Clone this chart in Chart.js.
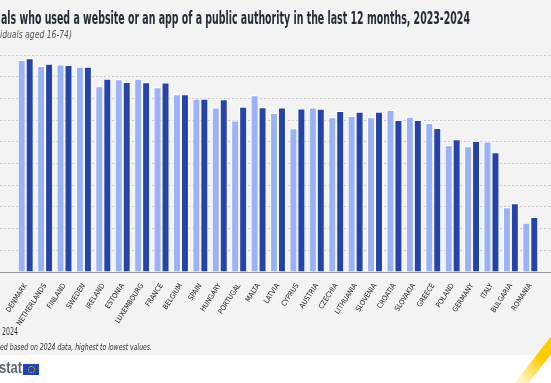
<!DOCTYPE html>
<html>
<head>
<meta charset="utf-8">
<script src="https://cdn.jsdelivr.net/npm/chart.js@4.4.1/dist/chart.umd.min.js"></script>
<style>
  html, body { margin: 0; padding: 0; background: #ffffff; }
  #wrap { position: relative; width: 551px; height: 383px; overflow: hidden; background: #ffffff; }
  #panel { position: absolute; left: 0; top: 0; width: 551px; height: 355px; background: #f3f3f3; }
  #c { position: absolute; left: 0; top: 0; }
  .t { position: absolute; white-space: nowrap; font-family: "DejaVu Sans Condensed", "DejaVu Sans", sans-serif; font-stretch: condensed; transform-origin: 0 0; }
  #title { left: 1px; top: 8px; font-size: 17px; line-height: 20px; font-weight: bold; color: #262b38; }
  #sub { left: 0px; top: 27px; font-size: 10.5px; line-height: 14px; font-style: italic; color: #555; }
  #leg { left: 2px; top: 326px; font-size: 10px; line-height: 12px; color: #333; }
  #note { left: 0px; top: 341px; font-size: 9.5px; line-height: 12px; font-style: italic; color: #333; }
  #logo { left: -1px; top: 358px; font-size: 17px; line-height: 20px; font-weight: bold; color: #5d6573; font-family: "Liberation Sans", "DejaVu Sans", sans-serif; }
  #flag { position: absolute; left: 23px; top: 364px; width: 16px; height: 11px; background: #1f43b8; }
  #flag:after { content: ""; position: absolute; left: 4.5px; top: 2px; width: 5px; height: 5px; border: 1px dotted #f2c200; border-radius: 50%; }
  #stripe { position: absolute; left: 531px; top: 326px; width: 11px; height: 76px;
            background: linear-gradient(to bottom, #ffcc00 0%, #ffcc00 40%, rgba(255,214,60,0.4) 75%, rgba(255,255,255,0) 100%);
            transform: rotate(38deg); transform-origin: 50% 50%; }
</style>
</head>
<body>
<div id="wrap">
  <div id="panel"></div>
  <canvas id="c" width="551" height="337"></canvas>
  <div class="t" id="title" data-w="469">als who used a website or an app of a public authority in the last 12 months, 2023-2024</div>
  <div class="t" id="sub" data-w="72">iduals aged 16-74)</div>
  <div class="t" id="leg" data-w="16">2024</div>
  <div class="t" id="note" data-w="152">ed based on 2024 data, highest to lowest values.</div>
  <div class="t" id="logo" data-w="23">stat</div>
  <div id="flag"></div>
  <div id="stripe"></div>
</div>
<script>
const countries = ["DENMARK","NETHERLANDS","FINLAND","SWEDEN","IRELAND","ESTONIA","LUXEMBOURG","FRANCE","BELGIUM","SPAIN","HUNGARY","PORTUGAL","MALTA","LATVIA","CYPRUS","AUSTRIA","CZECHIA","LITHUANIA","SLOVENIA","CROATIA","SLOVAKIA","GREECE","POLAND","GERMANY","ITALY","BULGARIA","ROMANIA"];
const values2023 = [97.7,94.9,95.6,94.6,85.6,88.8,89.0,85.1,81.9,79.8,75.8,69.8,81.4,73.3,66.3,75.8,71.3,71.9,71.3,74.6,71.6,68.7,58.4,58.0,60.1,29.8,22.7];
const values2024 = [98.5,96.0,95.4,94.6,89.1,87.6,87.4,87.3,81.9,79.8,79.6,76.1,75.9,75.8,75.3,75.2,74.2,73.9,73.9,70.1,70.1,66.4,61.2,60.4,55.2,31.7,25.3];
const yTicks = [0,10,20,30,40,50,60,70,80,90,100];

// fit the cropped text lines to the widths they take in the reference
document.querySelectorAll('.t[data-w]').forEach(el => {
  const w = el.getBoundingClientRect().width;
  const target = parseFloat(el.dataset.w);
  if (w > 0) el.style.transform = 'scaleX(' + (target / w) + ')';
});

const gridColor = ctx => (ctx.tick && ctx.tick.value === 0) ? '#9a9a9a' : '#c9c9c9';
const gridDash = ctx => (ctx.tick && ctx.tick.value === 0) ? [] : [2, 2];
const FONT = '"DejaVu Sans Condensed", "DejaVu Sans", sans-serif';

new Chart(document.getElementById('c'), {
  type: 'bar',
  data: {
    labels: countries,
    datasets: [
      { label: '2023', data: values2023, backgroundColor: '#9bb2f7', borderColor: '#ffffff', borderWidth: 1 },
      { label: '2024', data: values2024, backgroundColor: '#2644a7', borderColor: '#ffffff', borderWidth: 1 }
    ]
  },
  options: {
    responsive: false,
    animation: false,
    layout: { padding: { top: 55, left: 0, right: 0, bottom: 0 } },
    datasets: { bar: { categoryPercentage: 0.82, barPercentage: 1.0 } },
    plugins: { legend: { display: false }, tooltip: { enabled: false }, title: { display: false } },
    scales: {
      x: {
        grid: { display: false },
        border: { display: false },
        afterFit: axis => { axis.height = 65; },
        ticks: { autoSkip: false, minRotation: 57, maxRotation: 57, padding: 2, color: '#222222', font: { family: FONT, size: 7.2 } }
      },
      y: {
        position: 'left',
        min: 0, max: 100,
        afterBuildTicks: axis => { axis.ticks = yTicks.map(v => ({ value: v })); },
        ticks: { display: false },
        grid: { color: gridColor, tickColor: gridColor, tickLength: 16, tickBorderDash: gridDash, lineWidth: 1 },
        border: { display: false, dash: gridDash }
      },
      y2: {
        position: 'right',
        min: 0, max: 100,
        afterBuildTicks: axis => { axis.ticks = yTicks.map(v => ({ value: v })); },
        ticks: { display: false },
        grid: { drawOnChartArea: false, color: gridColor, tickColor: gridColor, tickLength: 11, tickBorderDash: gridDash },
        border: { display: false }
      }
    }
  }
});
</script>
</body>
</html>
